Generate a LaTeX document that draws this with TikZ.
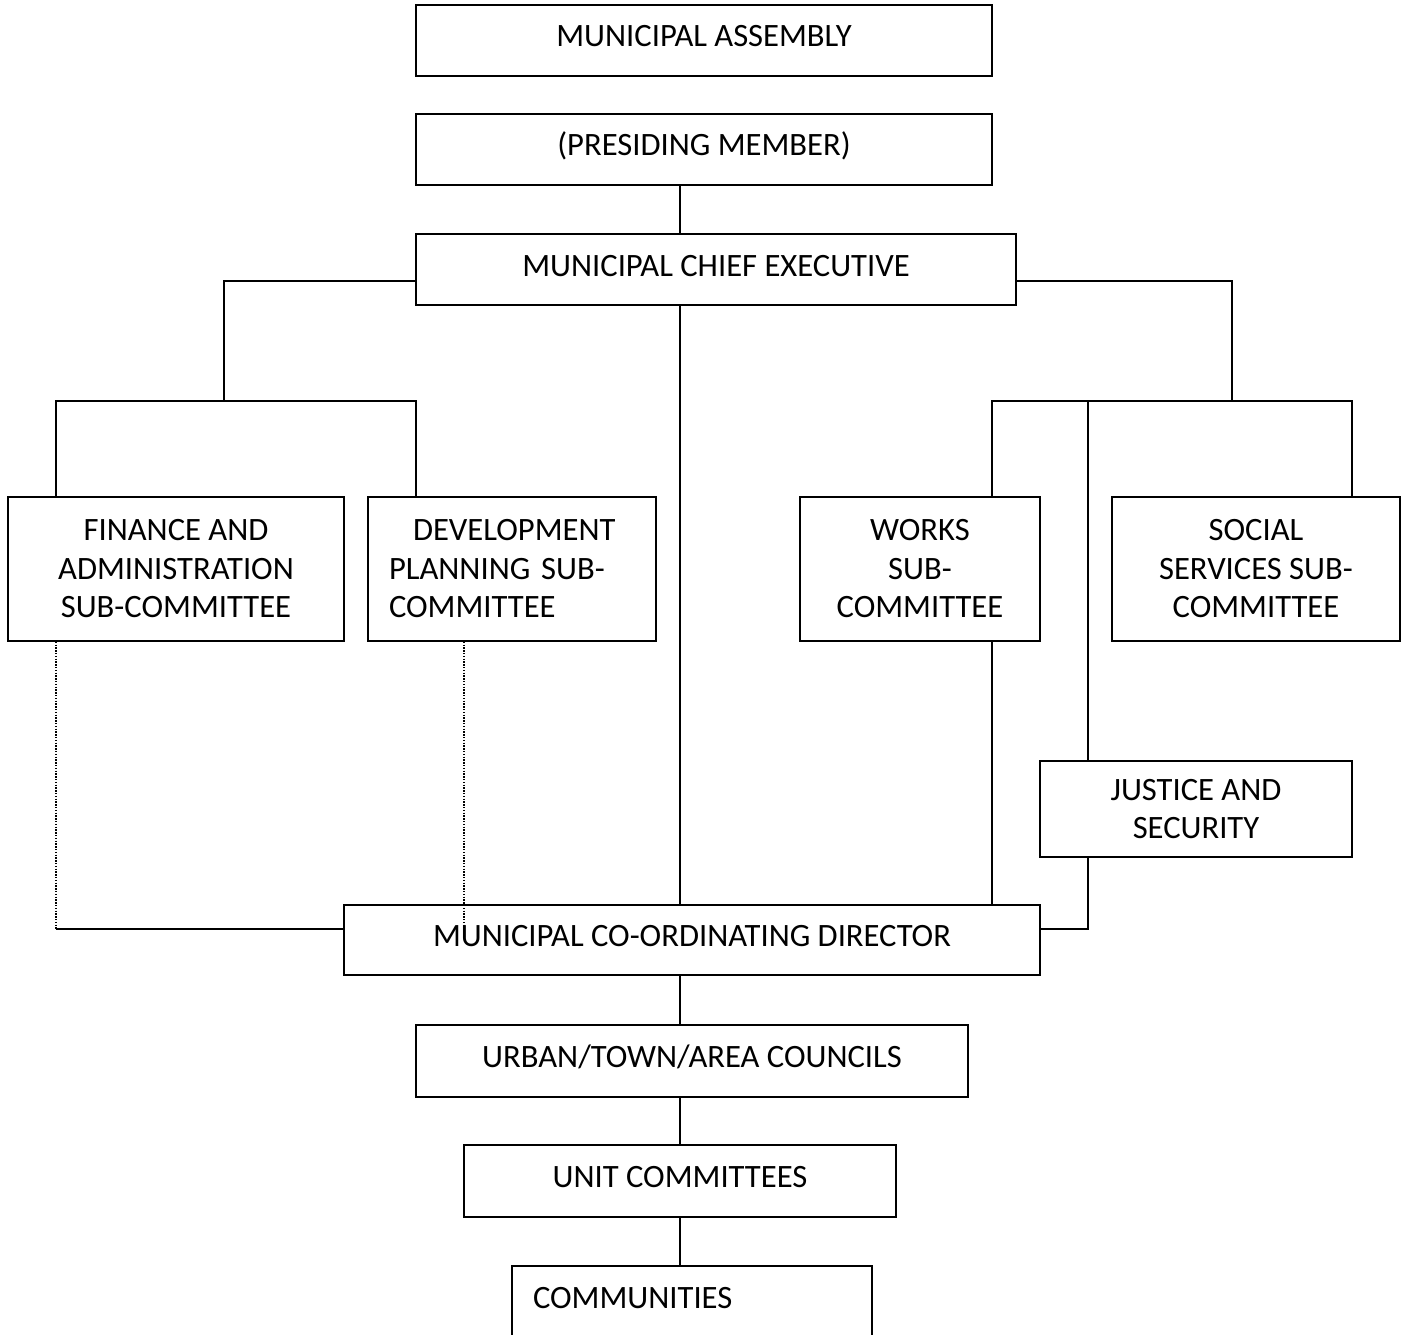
\documentclass[tikz,border=0pt]{standalone}
\usepackage{fontspec}
\setmainfont{Carlito}
\begin{document}
\begin{tikzpicture}[x=1pt,y=-1pt,
 box/.style={draw,line width=1.6pt,inner sep=0pt,align=center,font=\fontsize{32.6}{38.5}\selectfont},
 one/.style={text height=21pt,text depth=8pt},
 conn/.style={line width=1.6pt},
 dots/.style={line width=1.3pt,dash pattern=on 1.4pt off 1.4pt}]
\useasboundingbox (0,0) rectangle (1406,1335);
% boxes
\node[box,one,minimum width=576pt,minimum height=71pt] (ma) at (704,40.5) {MUNICIPAL ASSEMBLY};
\node[box,one,minimum width=576pt,minimum height=71pt] (pm) at (704,149.5) {(PRESIDING MEMBER)};
\node[box,one,minimum width=600pt,minimum height=71pt] (mce) at (716,269.5) {MUNICIPAL CHIEF EXECUTIVE};
\node[box,minimum width=336pt,minimum height=144pt] (fin) at (176,569) {FINANCE AND\\ADMINISTRATION\\SUB-COMMITTEE};
\node[box,minimum width=288pt,minimum height=144pt,text width=246pt,align=left] (dev) at (512,569) {\hspace*{24pt}DEVELOPMENT\\PLANNING SUB-\\COMMITTEE};
\node[box,minimum width=240pt,minimum height=144pt] (wor) at (920,569) {WORKS\\SUB-\\COMMITTEE};
\node[box,minimum width=288pt,minimum height=144pt] (soc) at (1256,569) {SOCIAL\\SERVICES SUB-\\COMMITTEE};
\node[box,minimum width=312pt,minimum height=96pt,yshift=0pt] (jus) at (1196,809) {JUSTICE AND\\SECURITY};
\node[box,one,minimum width=696pt,minimum height=70pt] (mcd) at (692,940) {MUNICIPAL CO-ORDINATING DIRECTOR};
\node[box,one,minimum width=552pt,minimum height=72pt] (urb) at (692,1061) {URBAN/TOWN/AREA COUNCILS};
\node[box,one,minimum width=432pt,minimum height=72pt] (uni) at (680,1181) {UNIT COMMITTEES};
\node[box,one,minimum width=360pt,minimum height=72pt,text width=318pt,align=left] (com) at (692,1302) {COMMUNITIES};
% named points
\coordinate (spine) at (680,0);
\coordinate (lj) at (224,401);
\coordinate (rj) at (1232,401);
\coordinate (finx) at (56,0);
\coordinate (devx) at (416,0);
\coordinate (devd) at (464,0);
\coordinate (worx) at (992,0);
\coordinate (jusx) at (1088,0);
\coordinate (socx) at (1352,0);
\coordinate (bar) at (0,401);
\coordinate (mcey) at (0,281);
\coordinate (mcdy) at (0,929);
% connectors
\draw[conn] (spine |- pm.south) -- (spine |- mce.north);
\draw[conn] (mce.west |- mcey) -| (lj);
\draw[conn] (finx |- fin.north) -- (finx |- bar) -- (devx |- bar) -- (devx |- dev.north);
\draw[conn] (mce.east |- mcey) -| (rj);
\draw[conn] (worx |- wor.north) -- (worx |- bar) -- (socx |- bar) -- (socx |- soc.north);
\draw[conn] (jusx |- bar) -- (jusx |- jus.north);
\draw[conn] (spine |- mce.south) -- (spine |- mcd.north);
\draw[conn] (worx |- wor.south) -- (worx |- mcd.north);
\draw[conn] (jusx |- jus.south) -- (jusx |- mcdy) -- (mcd.east |- mcdy);
\draw[conn] (mcd.west |- mcdy) -- (finx |- mcdy);
\draw[dots] (finx |- fin.south) -- (finx |- mcdy);
\draw[dots] (devd |- dev.south) -- (devd |- mcdy);
\draw[conn] (spine |- mcd.south) -- (spine |- urb.north);
\draw[conn] (spine |- urb.south) -- (spine |- uni.north);
\draw[conn] (spine |- uni.south) -- (spine |- com.north);
\end{tikzpicture}
\end{document}
